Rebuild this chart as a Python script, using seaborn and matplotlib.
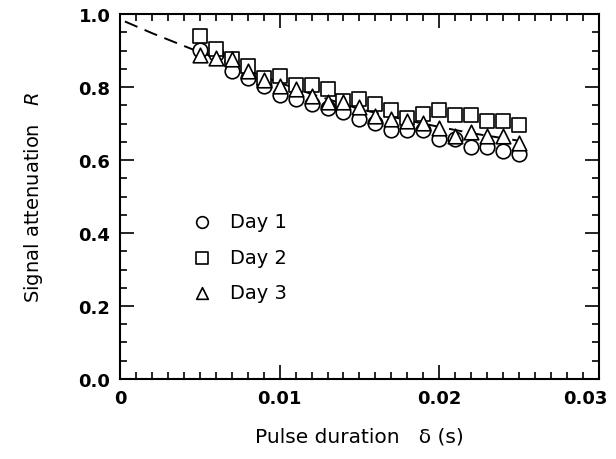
import numpy as np
import pandas as pd
import matplotlib
matplotlib.use("Agg")
import matplotlib.pyplot as plt
import matplotlib.transforms as mtransforms
import seaborn as sns
from matplotlib.ticker import MultipleLocator

# ---- data ----
delta = [0.005, 0.006, 0.007, 0.008, 0.009, 0.010, 0.011, 0.012, 0.013, 0.014, 0.015,
         0.016, 0.017, 0.018, 0.019, 0.020, 0.021, 0.022, 0.023, 0.024, 0.025]
day1 = [0.902, 0.892, 0.845, 0.824, 0.802, 0.779, 0.767, 0.755, 0.744, 0.731, 0.714,
        0.701, 0.682, 0.682, 0.682, 0.658, 0.658, 0.635, 0.635, 0.624, 0.616]
day2 = [0.939, 0.904, 0.877, 0.857, 0.826, 0.831, 0.807, 0.807, 0.796, 0.761, 0.767,
        0.755, 0.737, 0.715, 0.725, 0.737, 0.723, 0.723, 0.706, 0.706, 0.697]
day3 = [0.888, 0.881, 0.877, 0.845, 0.819, 0.802, 0.795, 0.777, 0.758, 0.758, 0.746,
        0.721, 0.712, 0.708, 0.703, 0.689, 0.667, 0.676, 0.667, 0.665, 0.648]
fit_x = [0.0003, 0.002, 0.0044, 0.006, 0.008, 0.010, 0.012, 0.015, 0.018, 0.020, 0.022, 0.025]
fit_y = [0.980, 0.948, 0.906, 0.880, 0.845, 0.812, 0.781, 0.740, 0.709, 0.691, 0.674, 0.653]
labels = ["Day 1", "Day 2", "Day 3"]
x_ticks = [0, 0.01, 0.02, 0.03]
x_ticklabels = ["0", "0.01", "0.02", "0.03"]
y_ticks = [0.0, 0.2, 0.4, 0.6, 0.8, 1.0]
y_ticklabels = ["0.0", "0.2", "0.4", "0.6", "0.8", "1.0"]

sns.set_theme(style="ticks")
plt.rcParams['font.family'] = ['DejaVu Sans']
plt.rcParams['text.color'] = 'black'
plt.rcParams['axes.labelcolor'] = 'black'
plt.rcParams['xtick.color'] = 'black'
plt.rcParams['ytick.color'] = 'black'

fig = plt.figure(figsize=(6.16, 4.6), dpi=100)
ax = fig.add_axes([0.195, 0.174, 0.777, 0.793])

sns.lineplot(x=fit_x, y=fit_y, ax=ax, color="black", linestyle=(0, (7, 4)),
             linewidth=1.4, zorder=1)

markers = ["o", "s", "^"]
for vals, lab, m in zip([day1, day2, day3], labels, markers):
    df = pd.DataFrame({"delta": delta, "R": vals})
    sns.scatterplot(data=df, x="delta", y="R", ax=ax, marker=m, s=110,
                    facecolor="white", edgecolor="black", linewidth=1.2,
                    label=lab, zorder=3)

ax.set_xlim(0, 0.03)
ax.set_ylim(0, 1.0)
ax.set_xticks(x_ticks)
ax.set_xticklabels(x_ticklabels)
ax.set_yticks(y_ticks)
ax.set_yticklabels(y_ticklabels)
ax.xaxis.set_minor_locator(MultipleLocator(0.001))
ax.yaxis.set_minor_locator(MultipleLocator(0.05))
ax.tick_params(which="both", direction="in", top=True, right=True, width=1.2, color="black")
ax.tick_params(which="major", length=10, labelsize=13, pad=7)
ax.tick_params(which="minor", length=5)
for lbl in ax.get_xticklabels() + ax.get_yticklabels():
    lbl.set_fontweight("bold")
last = ax.get_xticklabels()[-1]
last.set_transform(last.get_transform() +
                   mtransforms.ScaledTranslation(-0.13, 0, fig.dpi_scale_trans))
for sp in ax.spines.values():
    sp.set_linewidth(1.5)
    sp.set_color("black")

ax.set_xlabel("Pulse duration   δ (s)", fontsize=14.5, labelpad=14)
ax.set_ylabel("Signal attenuation   $\\it{R}$", fontsize=14, labelpad=24)

leg = ax.legend(loc="upper left", bbox_to_anchor=(0.135, 0.478), frameon=False,
                fontsize=14, handlelength=1.0, handletextpad=0.95, labelspacing=0.85,
                borderaxespad=0, markerscale=0.8)

fig.savefig("out.png", dpi=100)
